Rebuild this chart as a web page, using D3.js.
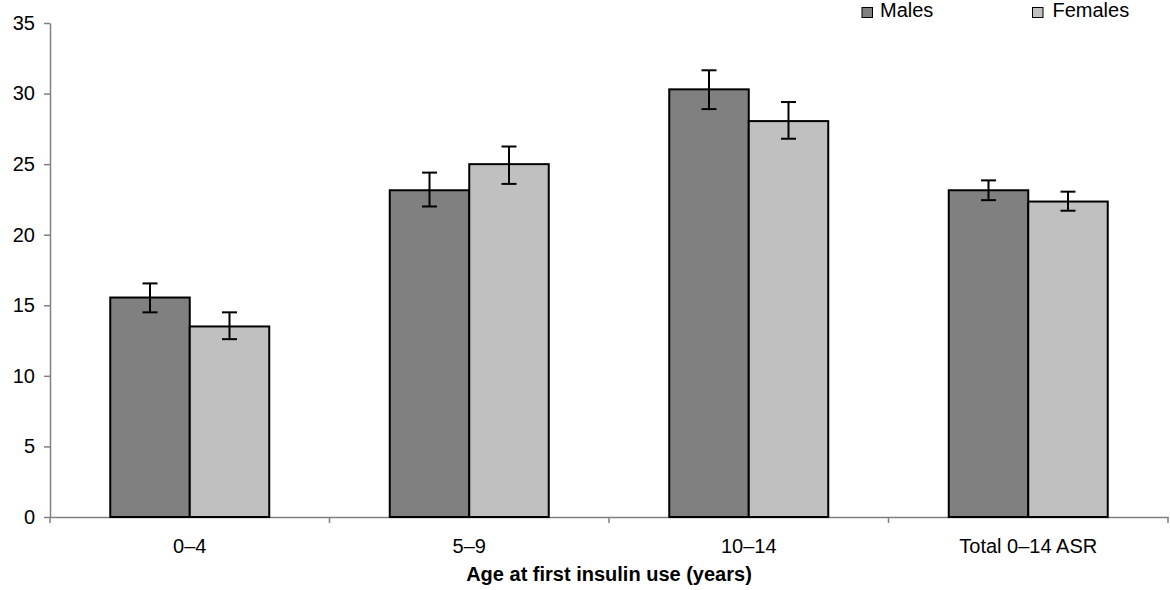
<!DOCTYPE html>
<html><head><meta charset="utf-8">
<script src="https://cdn.jsdelivr.net/npm/d3@7"></script>
<style>body{margin:0;background:#fff}svg{font-family:"Liberation Sans",Arial,sans-serif}</style>
</head><body><svg id="c" width="1170" height="590"></svg>
<script>
const categories = ["0–4","5–9","10–14","Total 0–14 ASR"];
const seriesNames = ["Males","Females"];
const males = [15.55, 23.15, 30.3, 23.15];
const malesLow = [14.5, 22.0, 28.9, 22.45];
const malesHigh = [16.55, 24.4, 31.65, 23.85];
const females = [13.5, 25.0, 28.05, 22.35];
const femalesLow = [12.6, 23.6, 26.8, 21.7];
const femalesHigh = [14.5, 26.25, 29.4, 23.05];
const yTicks = [0,5,10,15,20,25,30,35];
const colors = ["#808080","#c0c0c0"];

const FONT = "Liberation Sans, Arial, sans-serif";
const svg = d3.select("#c");
const x0 = 50, x1 = 1168, yTop = 23, yBot = 517;
const x = d3.scaleBand().domain(categories).range([x0,x1]).paddingInner(0).paddingOuter(0);
const xs = d3.scaleBand().domain(seriesNames).range([0,x.bandwidth()]).paddingInner(0).paddingOuter(0.758);
const y = d3.scaleLinear().domain([0,35]).range([yBot,yTop]);

const data = categories.map((c,i)=>[
  {c, s:"Males", v:males[i], lo:malesLow[i], hi:malesHigh[i], col:colors[0]},
  {c, s:"Females", v:females[i], lo:femalesLow[i], hi:femalesHigh[i], col:colors[1]}
]).flat();

// y axis
const ya = svg.append("g").attr("transform",`translate(${x0},0)`)
  .call(d3.axisLeft(y).tickValues(yTicks).tickSize(6).tickSizeOuter(0).tickPadding(9));
ya.select(".domain").attr("stroke","#808080").attr("stroke-width",1.5);
ya.selectAll(".tick line").attr("stroke","#808080").attr("stroke-width",1.5);
ya.selectAll("text").attr("font-size",20).attr("fill","#000").attr("font-family",FONT);

// x axis
const xa = svg.append("g").attr("transform",`translate(0,${yBot})`)
  .call(d3.axisBottom(x).tickSize(0).tickPadding(22));
xa.select(".domain").attr("stroke","#808080").attr("stroke-width",1.5);
xa.selectAll("text").attr("font-size",20).attr("fill","#000").attr("font-family",FONT);
const bounds = categories.map(c=>x(c)).concat([x1]);
svg.append("g").selectAll("line").data(bounds).enter().append("line")
  .attr("x1",d=>d).attr("x2",d=>d).attr("y1",yBot).attr("y2",yBot+6).attr("stroke","#808080").attr("stroke-width",1.5);

svg.selectAll("rect.bar").data(data).enter().append("rect").attr("class","bar")
  .attr("x", d=>x(d.c)+xs(d.s)).attr("width", xs.bandwidth())
  .attr("y", d=>y(d.v)).attr("height", d=>y(0)-y(d.v))
  .attr("fill", d=>d.col).attr("stroke","#000").attr("stroke-width",2);

// error bars
const cx = d=>x(d.c)+xs(d.s)+xs.bandwidth()/2;
const eb = svg.selectAll("g.eb").data(data).enter().append("g").attr("stroke","#000").attr("stroke-width",2);
eb.append("line").attr("x1",cx).attr("x2",cx).attr("y1",d=>y(d.lo)).attr("y2",d=>y(d.hi));
eb.append("line").attr("x1",d=>cx(d)-7.5).attr("x2",d=>cx(d)+7.5).attr("y1",d=>y(d.lo)).attr("y2",d=>y(d.lo));
eb.append("line").attr("x1",d=>cx(d)-7.5).attr("x2",d=>cx(d)+7.5).attr("y1",d=>y(d.hi)).attr("y2",d=>y(d.hi));

svg.append("text").attr("x",(x0+x1)/2).attr("y",581).attr("text-anchor","middle")
  .attr("font-size",20).attr("font-weight","bold").attr("font-family",FONT).text("Age at first insulin use (years)");

// legend
const legX = [862, 1032.5];
const lg = svg.selectAll("g.lg").data(seriesNames).enter().append("g");
lg.append("rect").attr("x",(d,i)=>legX[i]).attr("y",7.5).attr("width",10.5).attr("height",10)
  .attr("fill",(d,i)=>colors[i]).attr("stroke","#000").attr("stroke-width",1);
lg.append("text").attr("x",(d,i)=>legX[i]+18 + i*2).attr("y",17).attr("font-size",20).attr("font-family",FONT).text(d=>d);
</script></body></html>
